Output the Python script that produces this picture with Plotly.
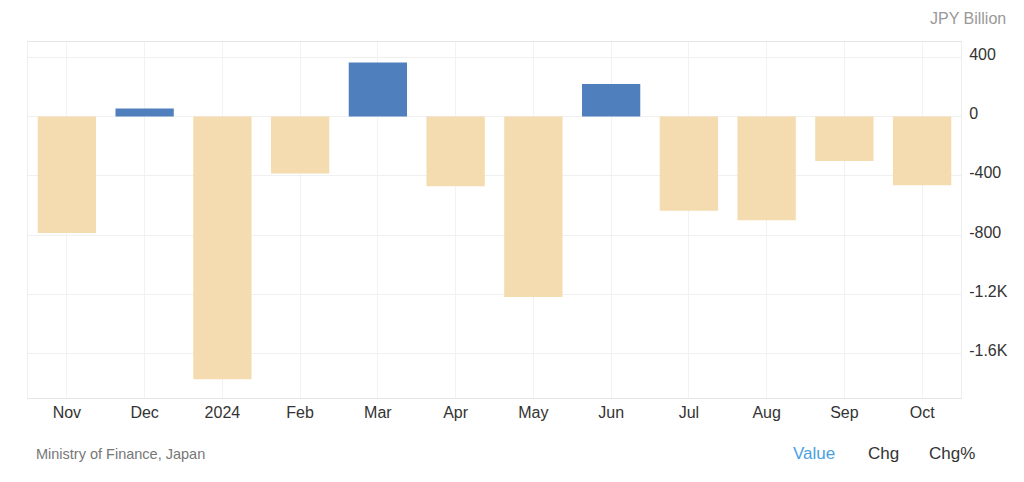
import plotly.graph_objects as go

categories = ["Nov", "Dec", "2024", "Feb", "Mar", "Apr", "May", "Jun", "Jul", "Aug", "Sep", "Oct"]
values = [-787, 54, -1774, -384, 364, -470, -1218, 220, -636, -700, -301, -464]

tick_vals = [400, 0, -400, -800, -1200, -1600]
tick_text = ["400", "0", "-400", "-800", "-1.2K", "-1.6K"]

pos_color = "#4f80bd"
neg_color = "#f4dcb0"
colors = [pos_color if v >= 0 else neg_color for v in values]

fig = go.Figure(go.Bar(
    x=categories, y=values,
    marker=dict(color=colors, line=dict(width=0)),
    hoverinfo="x+y",
))

font_family = "Liberation Sans, Arial, sans-serif"

W, H = 1024, 482
pl, pr, pt, pb = 28, 961, 42, 398

fig.update_layout(
    width=W, height=H,
    margin=dict(l=pl, r=W - pr, t=pt, b=H - pb),
    paper_bgcolor="white", plot_bgcolor="white",
    bargap=0.25,
    showlegend=False,
    font=dict(family=font_family, size=16, color="#333333"),
    xaxis=dict(
        type="category",
        showgrid=True, gridcolor="#f2f2f2", gridwidth=1,
        showline=True, linecolor="#e6e6e6", linewidth=1, mirror=True,
        ticks="", tickfont=dict(size=16, color="#333333"),
        range=[-0.5, 11.5],
        fixedrange=True,
    ),
    yaxis=dict(
        side="right",
        range=[-1900, 503],
        tickvals=tick_vals, ticktext=tick_text,
        showgrid=True, gridcolor="#f0f0f0", gridwidth=1,
        zeroline=False,
        showline=True, linecolor="#eeeeee", linewidth=1, mirror=True,
        ticks="", tickfont=dict(size=16, color="#333333"),
        ticklabelstandoff=4,
        ticklabelshift=-3,
        fixedrange=True,
    ),
)


def px_x(x):
    return (x - pl) / (pr - pl)


def px_y(y):
    return (pb - y) / (pb - pt)


anns = [
    dict(text="JPY Billion", x=px_x(1008), y=px_y(18), xanchor="right", yanchor="middle",
         font=dict(size=16, color="#999999")),
    dict(text="Ministry of Finance, Japan", x=px_x(34), y=px_y(454), xanchor="left", yanchor="middle",
         font=dict(size=14.5, color="#777777")),
    dict(text="Value", x=px_x(814), y=px_y(453), xanchor="center", yanchor="middle",
         font=dict(size=17, color="#4a9fe0")),
    dict(text="Chg", x=px_x(883), y=px_y(453), xanchor="center", yanchor="middle",
         font=dict(size=17, color="#333333")),
    dict(text="Chg%", x=px_x(952), y=px_y(453), xanchor="center", yanchor="middle",
         font=dict(size=17, color="#333333")),
]
for a in anns:
    a.update(xref="paper", yref="paper", showarrow=False)
fig.update_layout(annotations=anns)

fig.write_html("out.html", config={"displayModeBar": False})
